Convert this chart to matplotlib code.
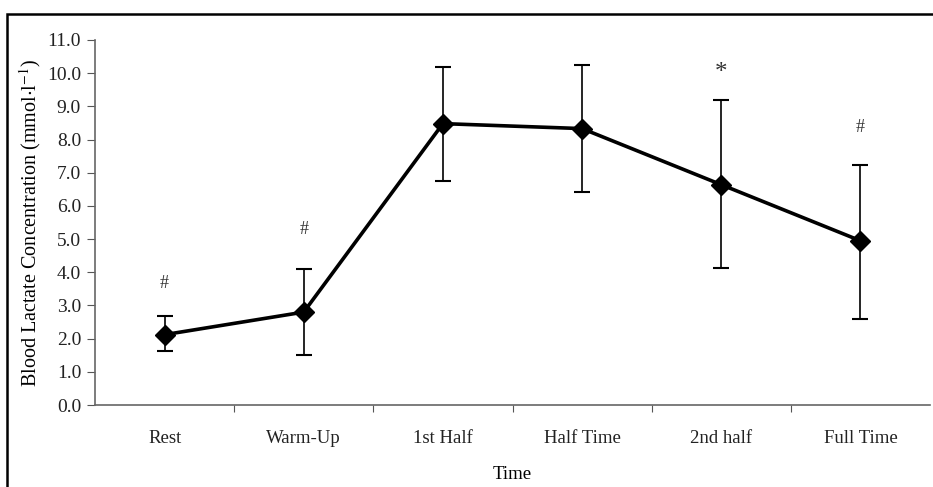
import matplotlib
matplotlib.use("Agg")
import matplotlib.pyplot as plt
from matplotlib.patches import Rectangle

categories = ["Rest", "Warm-Up", "1st Half", "Half Time", "2nd half", "Full Time"]
lactate = [2.12, 2.8, 8.48, 8.33, 6.64, 4.95]
err_low = [0.5, 1.3, 1.72, 1.92, 2.52, 2.35]
err_high = [0.55, 1.3, 1.72, 1.92, 2.55, 2.27]
marks = ["#", "#", "", "", "*", "#"]
mark_y = [3.67, 5.3, None, None, 10.0, 8.35]
yticks = [i * 1.0 for i in range(12)]

plt.rcParams['font.family'] = ['Liberation Serif', 'DejaVu Serif']
plt.rcParams['mathtext.fontset'] = 'stix'

fig = plt.figure(figsize=(9.33, 4.87), dpi=100)
ax = fig.add_axes([95/933, 1-405/487, 835/933, 365/487])

x = list(range(len(categories)))
ax.errorbar(x, lactate, yerr=[err_low, err_high], fmt='none', ecolor='black',
            elinewidth=1.2, capsize=6, capthick=1.5, zorder=2)
ax.plot(x, lactate, color='black', lw=2.6, marker='D', markersize=10,
        markerfacecolor='black', markeredgecolor='black', zorder=3)

for xi, m, my in zip(x, marks, mark_y):
    if m:
        ax.text(xi, my, m, ha='center', va='center',
                fontsize=(18 if m == '*' else 13), color='#333333')

ax.set_xlim(-0.5, len(categories) - 0.5)
ax.set_ylim(0, 11)
ax.set_yticks(yticks)
ax.set_yticklabels([f"{v:.1f}" for v in yticks], fontsize=14, color='#222222')
ax.set_xticks([i + 0.5 for i in range(len(categories) - 1)])
ax.set_xticklabels([])
ax.set_xticks(x, minor=True)
ax.set_xticklabels(categories, minor=True, fontsize=13.5, color='#222222')
ax.tick_params(axis='x', which='minor', length=0, pad=18)
ax.tick_params(axis='x', which='major', length=5, direction='out', color='#555555')
ax.tick_params(axis='y', length=6, direction='out', color='#555555', pad=4)

for s in ['top', 'right']:
    ax.spines[s].set_visible(False)
for s in ['left', 'bottom']:
    ax.spines[s].set_color('#666666')
    ax.spines[s].set_linewidth(1.2)

ax.set_xlabel("Time", fontsize=13.5, labelpad=14)
ax.set_ylabel(r"Blood Lactate Concentration (mmol$\cdot$l$^{-1}$)", fontsize=14.5, labelpad=3)

fig.patches.append(Rectangle((7/933, -0.2), 1.5, 1 - 14/487 + 0.2, transform=fig.transFigure,
                             fill=False, edgecolor='black', linewidth=1.8))

fig.savefig("out.png", dpi=100)
